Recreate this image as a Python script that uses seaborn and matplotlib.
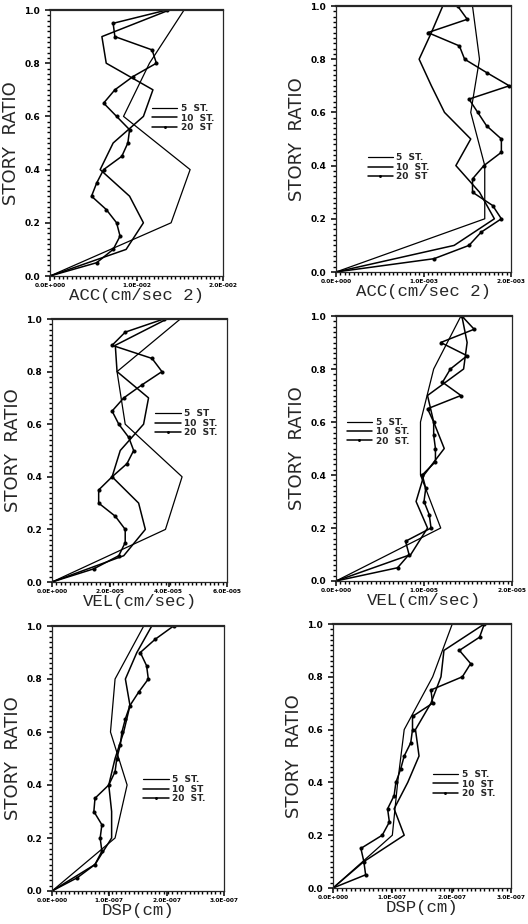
import numpy as np
import pandas as pd
import matplotlib
matplotlib.use("Agg")
import matplotlib.pyplot as plt
import seaborn as sns
from matplotlib.ticker import FuncFormatter, FixedLocator

# story ratio levels for each building
ratio_5 = [0.0, 0.2, 0.4, 0.6, 0.8, 1.0]
ratio_10 = [0.0, 0.1, 0.2, 0.3, 0.4, 0.5, 0.6, 0.7, 0.8, 0.9, 1.0]
ratio_20 = [0.0, 0.05, 0.1, 0.15, 0.2, 0.25, 0.3, 0.35, 0.4, 0.45, 0.5,
            0.55, 0.6, 0.65, 0.7, 0.75, 0.8, 0.85, 0.9, 0.95, 1.0]

# ACC, left column (x 1e-3)
acc_a_5 = [0, 14.0, 16.2, 8.5, 11.5, 15.5]
acc_a_10 = [0, 8.8, 10.8, 9.2, 5.8, 7.3, 10.8, 11.9, 6.5, 6.0, 13.8]
acc_a_20 = [0, 5.4, 7.3, 8.1, 7.7, 6.5, 4.8, 5.4, 6.2, 8.3, 9.0,
            9.2, 7.7, 6.2, 7.5, 9.6, 12.3, 11.8, 7.5, 7.3, 13.5]
# ACC, right column (x 1e-4)
acc_b_5 = [0, 17.0, 17.0, 15.4, 16.4, 15.6]
acc_b_10 = [0, 13.5, 18.1, 16.4, 13.7, 15.4, 12.4, 10.9, 9.5, 10.9, 12.2]
acc_b_20 = [0, 11.2, 15.2, 16.6, 18.9, 17.9, 15.6, 15.6, 16.9, 18.9, 18.9,
            17.2, 16.2, 15.2, 19.8, 17.2, 14.7, 14.1, 10.5, 15.0, 13.9]
# VEL, left column (x 1e-5)
vel_a_5 = [0, 3.89, 4.46, 2.51, 2.23, 4.4]
vel_a_10 = [0, 2.46, 3.2, 2.97, 2.06, 2.34, 3.14, 3.31, 2.23, 2.17, 3.94]
vel_a_20 = [0, 1.43, 2.29, 2.51, 2.51, 2.17, 1.6, 1.6, 2.06, 2.57, 2.8,
            2.63, 2.29, 2.06, 2.46, 3.09, 3.77, 3.43, 2.06, 2.51, 3.83]
# VEL, right column (x 1e-6)
vel_b_5 = [0, 11.9, 9.6, 9.6, 11.1, 14.2]
vel_b_10 = [0, 8.5, 10.4, 9.1, 10.0, 12.3, 11.1, 10.4, 14.5, 14.9, 14.3]
vel_b_20 = [0, 7.0, 8.3, 7.9, 10.8, 10.6, 10.0, 10.2, 9.8, 11.3, 11.3,
            11.1, 11.1, 10.4, 14.2, 12.1, 13.0, 14.9, 11.9, 15.7, 14.3]
# DSP, left column (x 1e-8)
dsp_a_5 = [0, 11.0, 13.1, 10.2, 11.0, 16.0]
dsp_a_10 = [0, 7.5, 10.4, 10.4, 9.9, 11.0, 12.5, 13.6, 12.8, 14.8, 17.4]
dsp_a_20 = [0, 4.4, 7.5, 8.7, 8.4, 8.7, 7.3, 7.5, 9.9, 11.0, 11.3,
            11.9, 12.2, 12.8, 13.6, 15.1, 16.8, 16.5, 15.4, 18.0, 21.2]
# DSP, right column (x 1e-8)
dsp_b_5 = [0, 10.0, 10.9, 12.0, 16.8, 20.1]
dsp_b_10 = [0, 5.2, 12.0, 10.3, 12.6, 14.5, 13.9, 16.5, 18.2, 18.7, 25.5]
dsp_b_20 = [0, 5.5, 5.2, 4.7, 8.3, 9.5, 9.2, 10.3, 10.6, 11.4, 12.0,
            13.1, 13.4, 13.4, 16.8, 16.5, 21.8, 23.2, 21.3, 24.7, 25.5]

x_labels = ["ACC(cm/sec 2)", "ACC(cm/sec 2)", "VEL(cm/sec)",
            "VEL(cm/sec)", "DSP(cm)", "DSP(cm)"]
legend_labels = [["5  ST.", "10  ST.", "20  ST"],
                 ["5  ST.", "10  ST.", "20  ST"],
                 ["5  ST", "10  ST.", "20  ST."],
                 ["5  ST.", "10  ST.", "20  ST."],
                 ["5  ST.", "10  ST", "20  ST."],
                 ["5  ST.", "10  ST", "20  ST."]]

panels = [
    (acc_a_5, acc_a_10, acc_a_20, 1e-3, 2e-2, 1e-2),
    (acc_b_5, acc_b_10, acc_b_20, 1e-4, 2e-3, 1e-3),
    (vel_a_5, vel_a_10, vel_a_20, 1e-5, 6e-5, 2e-5),
    (vel_b_5, vel_b_10, vel_b_20, 1e-6, 2e-5, 1e-5),
    (dsp_a_5, dsp_a_10, dsp_a_20, 1e-8, 3e-7, 1e-7),
    (dsp_b_5, dsp_b_10, dsp_b_20, 1e-8, 3e-7, 1e-7),
]

# axes boxes in pixels (left, right, top, bottom)
boxes = [(50, 223, 10, 276), (336, 511, 6, 272),
         (52, 227, 319, 582), (336, 512, 316, 581),
         (52, 224, 626, 891), (333, 511, 624, 888)]
legend_pos = [(0.57, 0.66), (0.16, 0.46), (0.57, 0.67),
              (0.04, 0.63), (0.51, 0.45), (0.54, 0.46)]

W, H = 528, 924


def sci_fmt(v, pos):
    if v == 0:
        return "0.0E+000"
    exp = int(np.floor(np.log10(abs(v)) + 1e-9))
    man = v / 10 ** exp
    sign = "+" if exp >= 0 else "-"
    return f"{man:.1f}E{sign}{abs(exp):03d}"


sns.set_style("ticks")
plt.rcParams["font.family"] = ["DejaVu Sans"]
plt.rcParams["xtick.minor.visible"] = True
plt.rcParams["ytick.minor.visible"] = True
fig = plt.figure(figsize=(W / 100, H / 100), dpi=100)

for i, (s5, s10, s20, scale, xmax, step) in enumerate(panels):
    l, r, t, b = boxes[i]
    ax = fig.add_axes([l / W, 1 - b / H, (r - l) / W, (b - t) / H])
    lab = legend_labels[i]
    df5 = pd.DataFrame({"x": np.array(s5) * scale, "y": ratio_5})
    df10 = pd.DataFrame({"x": np.array(s10) * scale, "y": ratio_10})
    df20 = pd.DataFrame({"x": np.array(s20) * scale, "y": ratio_20})
    sns.lineplot(data=df5, x="x", y="y", orient="y", sort=False, color="black",
                 lw=0.9, ax=ax, label=lab[0])
    sns.lineplot(data=df10, x="x", y="y", orient="y", sort=False, color="black",
                 lw=1.1, ax=ax, label=lab[1])
    sns.lineplot(data=df20, x="x", y="y", orient="y", sort=False, color="black",
                 lw=1.1, marker="o", ms=2.2, mec="black", ax=ax, label=lab[2])

    ax.set_xlim(0, xmax)
    ax.set_ylim(0, 1.0)
    xmaj = np.arange(0, xmax + step / 2, step)
    ax.xaxis.set_major_locator(FixedLocator(xmaj))
    ax.xaxis.set_minor_locator(FixedLocator(np.linspace(0, xmax, 41)))
    ax.xaxis.set_major_formatter(FuncFormatter(sci_fmt))
    ax.yaxis.set_major_locator(FixedLocator(np.linspace(0, 1, 6)))
    ax.yaxis.set_minor_locator(FixedLocator(np.linspace(0, 1, 51)))
    ax.yaxis.set_major_formatter(FuncFormatter(lambda v, p: f"{v:.1f}"))
    ax.tick_params(axis="both", which="major", length=3.5, width=1.1,
                   direction="out", colors="black")
    ax.tick_params(axis="both", which="minor", length=2.5, width=1.0,
                   direction="out", colors="black")
    ax.tick_params(axis="y", which="major", labelsize=6.5)
    ax.tick_params(axis="x", which="major", labelsize=4.2, pad=1.5)
    for lbl in ax.get_xticklabels() + ax.get_yticklabels():
        lbl.set_fontweight("bold")
    for side in ["left", "right", "bottom"]:
        ax.spines[side].set_linewidth(0.9)
        ax.spines[side].set_visible(True)
    ax.spines["top"].set_visible(True)
    ax.spines["top"].set_linewidth(1.6)

    ax.set_xlabel(x_labels[i], family="Liberation Mono", fontsize=12.5,
                  labelpad=0)
    ax.set_ylabel("STORY  RATIO", fontsize=13, labelpad=3)

    leg = ax.legend(loc="upper left", bbox_to_anchor=legend_pos[i], frameon=False,
                    fontsize=6.5, handlelength=2.8, handletextpad=0.4,
                    labelspacing=0.05, borderaxespad=0, markerscale=0.6)
    for txt in leg.get_texts():
        txt.set_fontweight("bold")

fig.savefig("out.png", dpi=100, facecolor="white")
